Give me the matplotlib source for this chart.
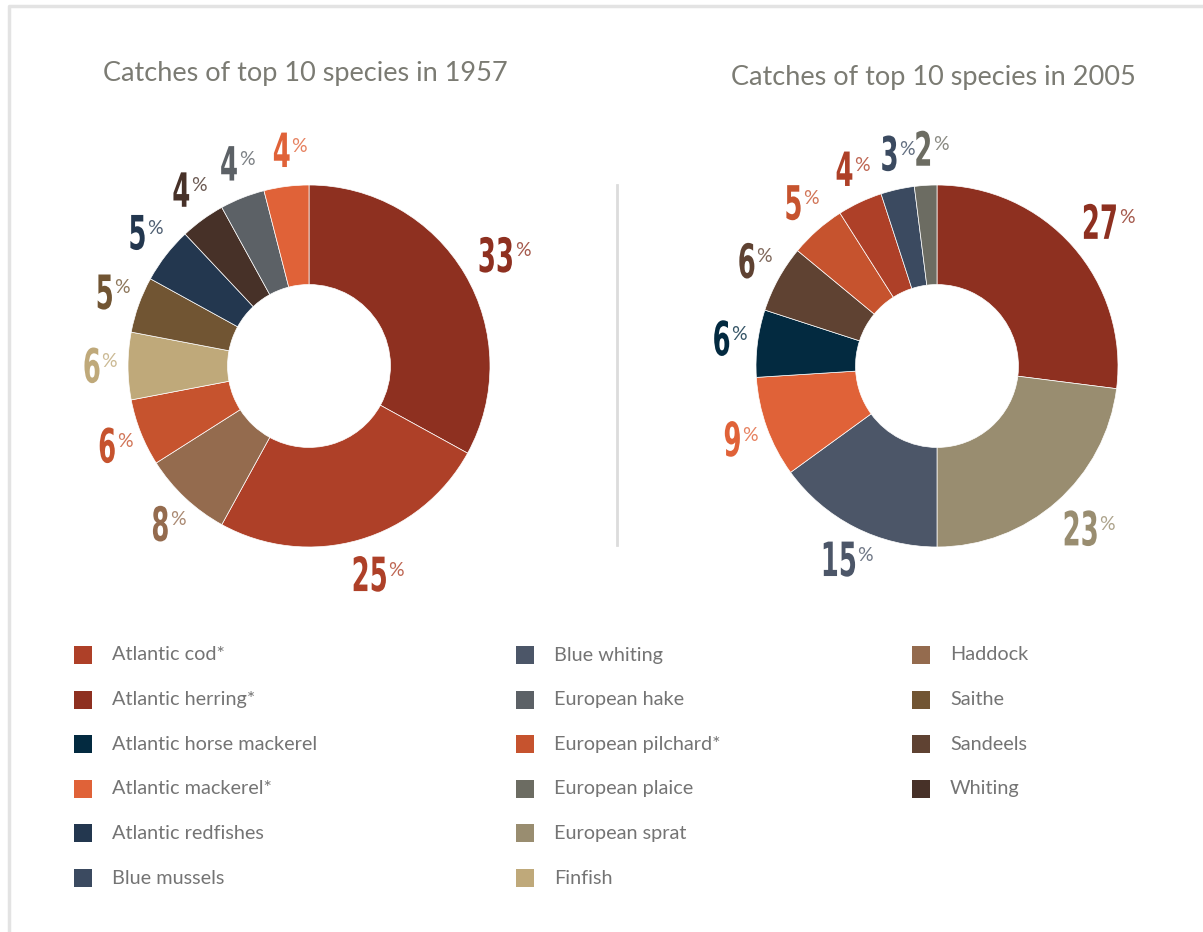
import numpy as np
import matplotlib.pyplot as plt
from matplotlib.patches import Rectangle
from matplotlib.patheffects import AbstractPathEffect
from matplotlib.transforms import Affine2D, Bbox

# colour per species, shared by both rings and the key
colours = {
    'Atlantic cod*': '#AE4028',
    'Atlantic herring*': '#8E3020',
    'Atlantic horse mackerel': '#032A40',
    'Atlantic mackerel*': '#E06238',
    'Atlantic redfishes': '#23374F',
    'Blue mussels': '#3B4A60',
    'Blue whiting': '#4C5668',
    'European hake': '#5C6166',
    'European pilchard*': '#C6532E',
    'European plaice': '#6C6C62',
    'European sprat': '#998D70',
    'Finfish': '#BFA97A',
    'Haddock': '#946B4E',
    'Saithe': '#715533',
    'Sandeels': '#5F4232',
    'Whiting': '#473128',
}

# 1957, clockwise from twelve o'clock
species_1957 = ['Atlantic herring*', 'Atlantic cod*', 'Haddock', 'European pilchard*',
                'Finfish', 'Saithe', 'Atlantic redfishes', 'Whiting',
                'European hake', 'Atlantic mackerel*']
share_1957 = [33, 25, 8, 6, 6, 5, 5, 4, 4, 4]

# 2005, clockwise from twelve o'clock
species_2005 = ['Atlantic herring*', 'European sprat', 'Blue whiting', 'Atlantic mackerel*',
                'Atlantic horse mackerel', 'Sandeels', 'European pilchard*', 'Atlantic cod*',
                'Blue mussels', 'European plaice']
share_2005 = [27, 23, 15, 9, 6, 6, 5, 4, 3, 2]

legend_cols = [
    ['Atlantic cod*', 'Atlantic herring*', 'Atlantic horse mackerel',
     'Atlantic mackerel*', 'Atlantic redfishes', 'Blue mussels'],
    ['Blue whiting', 'European hake', 'European pilchard*',
     'European plaice', 'European sprat', 'Finfish'],
    ['Haddock', 'Saithe', 'Sandeels', 'Whiting'],
]

W, H = 1203, 932
R = 181
SQ = 0.55   # horizontal squeeze for the big percentage digits


class Squeeze(AbstractPathEffect):
    """Narrow the glyphs horizontally about their own centre."""

    def __init__(self, sx):
        super().__init__()
        self.sx = sx

    def draw_path(self, renderer, gc, tpath, affine, rgbFace=None):
        ext = tpath.get_extents()
        c = (ext.x0 + ext.x1) / 2
        squash = Affine2D().translate(-c, 0).scale(self.sx, 1).translate(c, 0)
        renderer.draw_path(gc, tpath, squash + affine, rgbFace)


def squeezed_box(t, sx):
    # bbox of a squeezed text, for anchoring the % sign
    def box(renderer):
        bb = t.get_window_extent(renderer)
        c = (bb.x0 + bb.x1) / 2
        return Bbox.from_extents(c - sx * (c - bb.x0), bb.y0, c + sx * (bb.x1 - c), bb.y1)
    return box


fig = plt.figure(figsize=(W / 100, H / 100), dpi=100)
ax = fig.add_axes([0, 0, 1, 1])


def donut(cx, cy, species, shares):
    wedges, _ = ax.pie(shares, colors=[colours[s] for s in species],
                       center=(cx, cy), radius=R, startangle=90,
                       counterclock=False, frame=True,
                       wedgeprops=dict(width=0.55 * R, edgecolor='white', linewidth=0.5))
    for w, v, s in zip(wedges, shares, species):
        mid = np.deg2rad((w.theta1 + w.theta2) / 2)
        x = cx + 1.2 * R * np.cos(mid)
        y = cy + 1.2 * R * np.sin(mid) - 4
        t = ax.text(x, y, str(v), ha='center', va='center', fontsize=34,
                    family='DejaVu Sans', weight='bold', color=colours[s],
                    path_effects=[Squeeze(SQ)])
        ax.annotate('%', xy=(1, 1), xycoords=squeezed_box(t, SQ), xytext=(0.5, -4),
                    textcoords='offset points', ha='left', va='top',
                    fontsize=14, family='Lato', color=colours[s], alpha=0.8)


donut(309, H - 366, species_1957, share_1957)
donut(937, H - 366, species_2005, share_2005)

ax.text(305, H - 73, 'Catches of top 10 species in 1957', ha='center', va='center',
        fontsize=19.5, family='Lato', color='#7B7B73')
ax.text(933, H - 77, 'Catches of top 10 species in 2005', ha='center', va='center',
        fontsize=19.5, family='Lato', color='#7B7B73')

# divider between the two rings and the page frame
ax.plot([617, 617], [H - 185, H - 545], color='#DCDCDC', lw=2)
ax.plot([9, 9, W], [0, H - 6, H - 6], color='#E3E3E3', lw=2.5)

# key, three columns
col_x = [74, 516, 912]
for cx, names in zip(col_x, legend_cols):
    for i, name in enumerate(names):
        yc = H - (655 + 44.6 * i)
        ax.add_patch(Rectangle((cx, yc - 9), 18, 18, color=colours[name], lw=0))
        ax.text(cx + 38, yc, name, ha='left', va='center', fontsize=14.3,
                family='Lato', color='#747474')

ax.set_xlim(0, W)
ax.set_ylim(0, H)
ax.set_aspect('equal')
ax.axis('off')

fig.savefig('out.png', dpi=100)
